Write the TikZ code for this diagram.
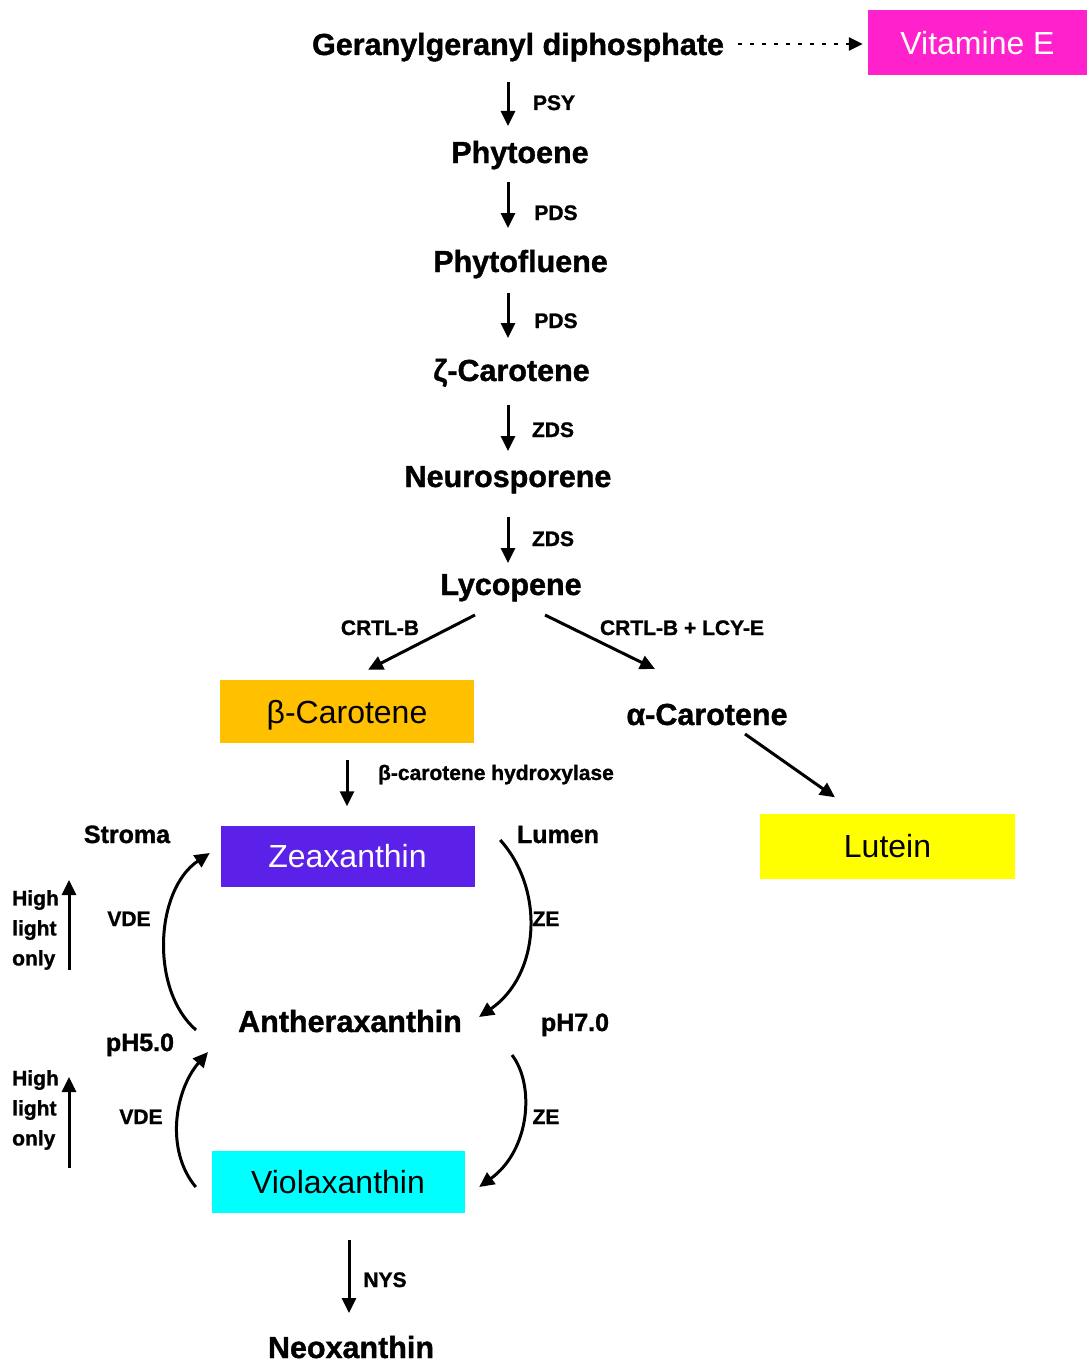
\documentclass[tikz,border=0pt]{standalone}
\usepackage{fontspec}
\setmainfont{Liberation Sans}[BoldFeatures={FakeBold=1.2}]
\usetikzlibrary{arrows.meta,calc}
\definecolor{vitc}{HTML}{FF22CC}
\definecolor{betac}{HTML}{FFC000}
\definecolor{zeac}{HTML}{5B21E8}
\definecolor{lutc}{HTML}{FFFF00}
\definecolor{vioc}{HTML}{00FFFF}
\begin{document}
\begin{tikzpicture}[x=1pt,y=-1pt,
  big/.style={font=\bfseries\fontsize{30.5}{32}\selectfont, inner sep=0pt, anchor=base},
  lab/.style={font=\bfseries\fontsize{21}{24}\selectfont, inner sep=0pt, anchor=base},
  mid/.style={font=\bfseries\fontsize{25}{28}\selectfont, inner sep=0pt, anchor=base},
  colbox/.style={font=\fontsize{32}{36}\selectfont, inner sep=0pt, text depth=0pt, draw=none},
  hl/.style={font=\bfseries\fontsize{21}{30}\selectfont, inner sep=0pt, align=left, anchor=north west},
  arr/.style={line width=3pt, -{Triangle[length=15pt,width=14pt]}},
  dotarr/.style={line width=2.5pt, dash pattern=on 4pt off 8pt, -{Triangle[length=14pt,width=13pt]}}
]
\useasboundingbox (0,0) rectangle (1087,1362);

% main chain
\node[big] (gg) at (518,55) {Geranylgeranyl diphosphate};
\node[big] (phy) at (520,163) {Phytoene};
\node[big] (phf) at (520.5,272) {Phytofluene};
\node[big] (zeta) at (511.5,381) {ζ-Carotene};
\node[big] (neu) at (508,487) {Neurosporene};
\node[big] (lyc) at (511,595) {Lycopene};
\node[big] (alpha) at (707,725) {α-Carotene};
\node[big] (anth) at (350,1032) {Antheraxanthin};
\node[big] (neo) at (351,1358) {Neoxanthin};

% coloured boxes
\node[colbox, fill=vitc, text=white, minimum width=219pt, minimum height=65pt] (vit) at (977.5,42.5) {Vitamine E};
\node[colbox, fill=betac, minimum width=254pt, minimum height=63pt] (beta) at (347,711.5) {β-Carotene};
\node[colbox, fill=zeac, text=white, minimum width=254pt, minimum height=61pt] (zea) at (347.5,856) {Zeaxanthin};
\node[colbox, fill=lutc, minimum width=255pt, minimum height=65pt] (lut) at (887.5,846) {Lutein};
\node[colbox, fill=vioc, minimum width=253pt, minimum height=62pt] (vio) at (338,1182) {Violaxanthin};

% enzyme labels
\node[lab] (psy) at (554,110) {PSY};
\node[lab] (pds1) at (556,220) {PDS};
\node[lab] (pds2) at (556,328) {PDS};
\node[lab] (zds1) at (553,437) {ZDS};
\node[lab] (zds2) at (553,546) {ZDS};
\node[lab] (crtlb) at (380,635) {CRTL-B};
\node[lab] (crtll) at (682,635) {CRTL-B + LCY-E};
\node[lab] (bch) at (496,780) {β-carotene hydroxylase};
\node[lab] (vde1) at (129,926) {VDE};
\node[lab] (ze1) at (546,926) {ZE};
\node[lab] (vde2) at (141,1124) {VDE};
\node[lab] (ze2) at (546,1124) {ZE};
\node[lab] (nys) at (385,1287) {NYS};
\node[mid] (stroma) at (127,843) {Stroma};
\node[mid] (lumen) at (558,843) {Lumen};
\node[mid] (ph5) at (140,1051) {pH5.0};
\node[mid] (ph7) at (575,1031) {pH7.0};
\node[hl] (hl1) at (12,890) {High\\light\\only};
\node[hl] (hl2) at (12,1070) {High\\light\\only};

% high light arrows
\coordinate (hl1s) at (69,970);
\coordinate (hl1e) at (69,880);
\coordinate (hl2s) at (69,1168);
\coordinate (hl2e) at (69,1077);
\draw[arr] (hl1s) -- (hl1e);
\draw[arr] (hl2s) -- (hl2e);

% connectors
\draw[dotarr] ($(gg.base)+(220,-11)$) -- ($(vit.west)+(-5,1.5)$);
\draw[arr] ($(gg.base)+(-10,27)$) -- ($(phy.base)+(-12,-37)$);
\draw[arr] ($(phy.base)+(-12,19)$) -- ($(phf.base)+(-12.5,-44)$);
\draw[arr] ($(phf.base)+(-12.5,21)$) -- ($(zeta.base)+(-3.5,-43)$);
\draw[arr] ($(zeta.base)+(-3.5,24)$) -- ($(neu.base)+(0,-36)$);
\draw[arr] ($(neu.base)+(0,30)$) -- ($(lyc.base)+(-3,-32)$);
\draw[arr] ($(lyc.base)+(-36,20)$) -- ($(beta.north)+(21,-10)$);
\draw[arr] ($(lyc.base)+(34,20)$) -- ($(alpha.base)+(-52,-56)$);
\draw[arr] ($(alpha.base)+(38,9)$) -- ($(lut.north)+(-52.5,-16)$);
\draw[arr] ($(beta.south)+(0,17)$) -- ($(zea.north)+(-0.5,-19)$);
\draw[arr] ($(vio.south)+(11,27)$) -- ($(neo.base)+(-2,-45)$);

% xanthophyll cycle
\draw[arr] ($(anth.base)+(-154,-2)$) .. controls +(-46,-40) and +(-55,37) .. ($(zea.west)+(-10.5,-3)$);
\draw[arr] ($(zea.east)+(25.5,-16)$) .. controls +(45,50) and +(61,-42) .. ($(anth.base)+(129,-15)$);
\draw[arr] ($(vio.west)+(-15.5,5)$) .. controls +(-31,-37) and +(-33,38) .. ($(anth.base)+(-142,20)$);
\draw[arr] ($(anth.base)+(162,23)$) .. controls +(23,30) and +(51,-37) .. ($(vio.east)+(14.5,5)$);
\end{tikzpicture}
\end{document}
